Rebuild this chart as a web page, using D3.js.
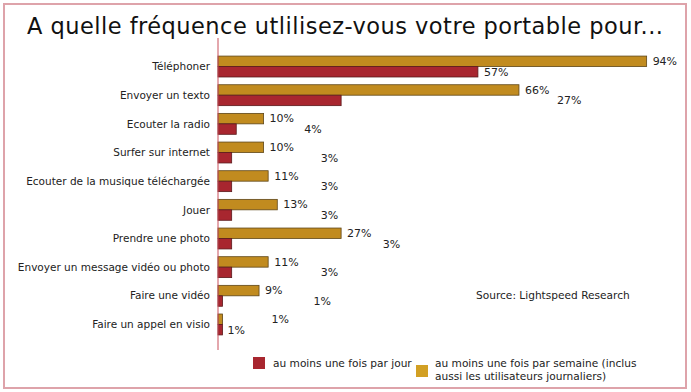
<!DOCTYPE html>
<html>
<head>
<meta charset="utf-8">
<script src="https://cdn.jsdelivr.net/npm/d3@7"></script>
<style>
  html, body { margin: 0; padding: 0; background: #fff; }
  svg text { font-family: "DejaVu Sans", Verdana, sans-serif; fill: #222; }
</style>
</head>
<body>
<svg id="chart" width="691" height="392"></svg>
<script>
// data
const categories = [
  "Téléphoner",
  "Envoyer un texto",
  "Ecouter la radio",
  "Surfer sur internet",
  "Ecouter de la musique téléchargée",
  "Jouer",
  "Prendre une photo",
  "Envoyer un message vidéo ou photo",
  "Faire une vidéo",
  "Faire un appel en visio"
];
const weekly = [94, 66, 10, 10, 11, 13, 27, 11, 9, 1];
const daily = [57, 27, 4, 3, 3, 3, 3, 3, 1, 1];
const seriesKeys = ["weekly", "daily"];
const legendDaily = ["au moins une fois par jour"];
const legendWeekly = ["au moins une fois par semaine (inclus", "aussi les utilisateurs journaliers)"];
const title = "A quelle fréquence utlilisez-vous votre portable pour...";
const source = "Source: Lightspeed Research";

// layout
const gold = "#c18b1f", red = "#a8262f";
// labels in the original are scattered, nudge them by hand (px from bar end)
const weeklyLabelDx = [6, 6, 6, 6, 6, 6, 6, 6, 6, 49];
const dailyLabelDx = [6, 216, 68, 89, 89, 89, 151, 89, 91, 5];

const svg = d3.select("#chart");

svg.append("rect")
  .attr("x", 4).attr("y", 4)
  .attr("width", 682).attr("height", 384)
  .attr("fill", "none")
  .attr("stroke", "#dea3aa")
  .attr("stroke-width", 2);

svg.append("text")
  .attr("x", 345).attr("y", 34)
  .attr("text-anchor", "middle")
  .attr("textLength", 636)
  .attr("lengthAdjust", "spacing")
  .style("font-size", "22.5px")
  .style("fill", "#111")
  .text(title);

const x = d3.scaleLinear().domain([0, 100]).range([218, 674]);
const y = d3.scaleBand()
  .domain(categories)
  .range([52.2, 338.8])
  .paddingInner(0.27)
  .paddingOuter(0.135);
const ySub = d3.scaleBand().domain(seriesKeys).range([0, y.bandwidth()]);

const rows = categories.map((c, i) => ({cat: c, weekly: weekly[i], daily: daily[i], i: i}));

const g = svg.append("g");

const row = g.selectAll("g.row")
  .data(rows)
  .join("g")
  .attr("class", "row")
  .attr("transform", d => `translate(0,${y(d.cat)})`);

row.append("rect")
  .attr("x", x(0))
  .attr("y", ySub("weekly"))
  .attr("width", d => x(d.weekly) - x(0))
  .attr("height", ySub.bandwidth())
  .attr("fill", gold)
  .attr("stroke", "#5e4618")
  .attr("stroke-width", 0.8);

row.append("rect")
  .attr("x", x(0))
  .attr("y", ySub("daily"))
  .attr("width", d => x(d.daily) - x(0))
  .attr("height", ySub.bandwidth())
  .attr("fill", red)
  .attr("stroke", "#5a1a1c")
  .attr("stroke-width", 0.8);

row.append("text")
  .attr("x", d => x(d.weekly) + weeklyLabelDx[d.i])
  .attr("y", ySub("weekly") + ySub.bandwidth() / 2)
  .attr("dy", "0.35em")
  .style("font-size", "11px")
  .text(d => d.weekly + "%");

row.append("text")
  .attr("x", d => x(d.daily) + dailyLabelDx[d.i])
  .attr("y", ySub("daily") + ySub.bandwidth() / 2)
  .attr("dy", "0.35em")
  .style("font-size", "11px")
  .text(d => d.daily + "%");

// category labels
g.selectAll("text.cat")
  .data(categories)
  .join("text")
  .attr("class", "cat")
  .attr("x", 210)
  .attr("y", d => y(d) + y.bandwidth() / 2)
  .attr("dy", "0.35em")
  .attr("text-anchor", "end")
  .style("font-size", "10.5px")
  .text(d => d);

// axis line
svg.append("line")
  .attr("x1", x(0)).attr("x2", x(0))
  .attr("y1", 38).attr("y2", 350)
  .attr("stroke", "#c9505c")
  .attr("stroke-width", 1);

svg.append("text")
  .attr("x", 476).attr("y", 295)
  .attr("dy", "0.35em")
  .style("font-size", "10.6px")
  .text(source);

// legend
const leg = svg.append("g");
leg.append("rect")
  .attr("x", 253).attr("y", 357).attr("width", 12).attr("height", 12)
  .attr("fill", red);
leg.append("text")
  .attr("x", 273).attr("y", 367)
  .style("font-size", "10.6px")
  .text(legendDaily[0]);
leg.append("rect")
  .attr("x", 416).attr("y", 365).attr("width", 12).attr("height", 12)
  .attr("fill", "#d2a024");
leg.selectAll("text.w")
  .data(legendWeekly)
  .join("text")
  .attr("class", "w")
  .attr("x", 435)
  .attr("y", (d, i) => 367 + i * 12.5)
  .style("font-size", "10.6px")
  .text(d => d);
</script>
</body>
</html>
